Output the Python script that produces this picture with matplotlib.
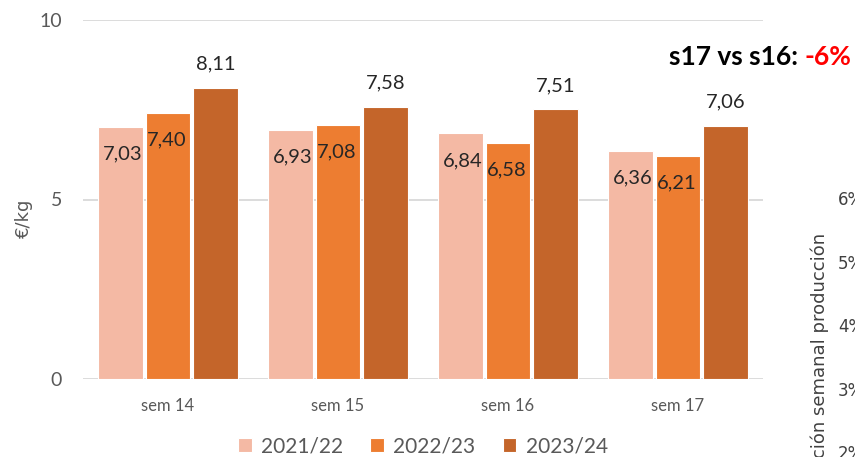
import matplotlib
matplotlib.use("Agg")
import matplotlib.pyplot as plt
import numpy as np

categories = ["sem 14", "sem 15", "sem 16", "sem 17"]
series_names = ["2021/22", "2022/23", "2023/24"]
v2122 = [7.03, 6.93, 6.84, 6.36]
v2223 = [7.40, 7.08, 6.58, 6.21]
v2324 = [8.11, 7.58, 7.51, 7.06]
yticks = [0, 5, 10]
right_ticks = ["6%", "5%", "4%", "3%", "2%"]

colors = ["#F4B9A4", "#ED7D31", "#C4652A"]
W, H = 855, 457
fig = plt.figure(figsize=(W / 100, H / 100), dpi=100)
font = "Lato"
ax = fig.add_axes([83 / W, (H - 379) / H, 680 / W, 359 / H])

x = np.arange(len(categories))
offsets = [-0.28, 0.0, 0.278]
width = 0.262
series = [v2122, v2223, v2324]
gray = "#595959"
for i, (vals, col, off) in enumerate(zip(series, colors, offsets)):
    ax.bar(x + off, vals, width=width, color=col, edgecolor="white", linewidth=0.8, zorder=3, label=series_names[i])
    for xi, v in zip(x + off, vals):
        txt = f"{v:.2f}".replace(".", ",")
        if i < 2:
            ax.annotate(txt, (xi, v), xytext=(1.5 if i == 0 else -1, -27 * 0.72), textcoords="offset points",
                        ha="center", va="center", fontsize=14.5, family=font, color="#262626", zorder=4)
        else:
            ax.annotate(txt, (xi, v), xytext=(0, 24 * 0.72), textcoords="offset points",
                        ha="center", va="center", fontsize=14.5, family=font, color="#262626", zorder=4)

ax.set_xlim(-0.5, 3.5)
ax.set_ylim(0, 10)
ax.set_yticks(yticks)
ax.set_yticklabels([str(t) for t in yticks], family=font, fontsize=14, color=gray)
ax.set_xticks(x)
ax.set_xticklabels(categories, family=font, fontsize=12, color=gray)
ax.tick_params(axis="both", length=0)
ax.tick_params(axis="y", pad=15)
ax.tick_params(axis="x", pad=14)
ax.grid(axis="y", color="#D9D9D9", linewidth=1.3, zorder=0)
for s in ax.spines.values():
    s.set_visible(False)
ax.set_ylabel("€/kg", family="DejaVu Sans", fontsize=13, color=gray)
ax.yaxis.set_label_coords(-0.074, 0.448)

leg = ax.legend(loc="upper center", bbox_to_anchor=(0.5, -0.108), ncol=3, frameon=False,
                prop={"family": font, "size": 15}, handlelength=0.65, handleheight=0.65,
                handletextpad=0.45, columnspacing=1.3)
for t in leg.get_texts():
    t.set_color(gray)

# title annotation
fig.text(798 / W, 1 - 57 / H, "s17 vs s16:", ha="right", va="center", fontsize=19, fontweight="bold", family=font, color="black")
fig.text(851 / W, 1 - 57 / H, "-6%", ha="right", va="center", fontsize=19, fontweight="bold", family=font, color="#FF0000")

# clipped neighbouring chart
for lab, yp in zip(right_ticks, [200, 264, 327, 391, 454]):
    fig.text(838 / W, 1 - yp / H, lab, ha="left", va="center", fontsize=12, family="DejaVu Sans", color="#404040")
fig.text(820 / W, 1 - 233 / H, "Variación semanal producción", rotation=90, ha="center", va="top",
         fontsize=13, family="DejaVu Sans", color="#404040")

fig.savefig("out.png", dpi=100)
